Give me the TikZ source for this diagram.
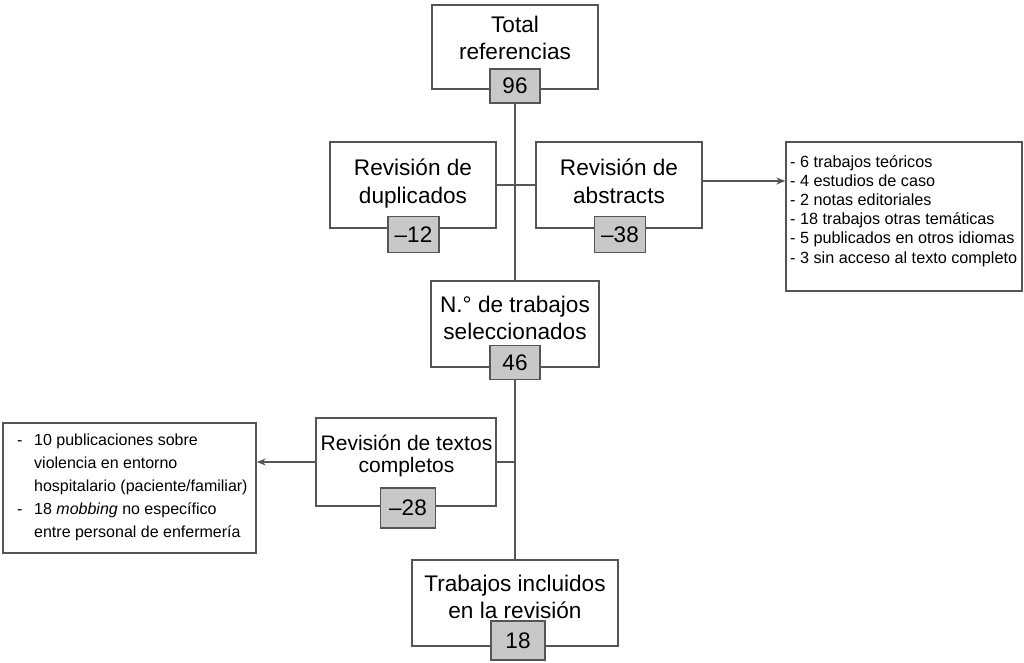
\documentclass[tikz,border=0pt]{standalone}
\usepackage{fontspec}
\setmainfont{Liberation Sans}
\usetikzlibrary{arrows.meta}
\definecolor{ln}{HTML}{555555}
\definecolor{numfill}{HTML}{C8C8C8}
\begin{document}
\begin{tikzpicture}[x=1pt,y=-1pt,
  box/.style={draw=ln,line width=1.4pt,fill=white,inner sep=0pt},
  numbox/.style={draw=ln,line width=1.4pt,fill=numfill,inner sep=0pt,font=\fontsize{22.5}{26}\selectfont},
  maintxt/.style={align=center,font=\fontsize{22.6}{27.5}\selectfont,inner sep=0pt},
  listtxt/.style={align=left,inner sep=0pt,anchor=north west},
  conn/.style={draw=ln,line width=1.4pt},
  arr/.style={conn,-{Stealth[length=9pt,width=7pt]}}]
\useasboundingbox (0,0) rectangle (1024,663);

% main boxes
\node[box,minimum width=166pt,minimum height=84pt] (tot) at (515,47) {};
\node[maintxt] (tottxt) at (515,38) {Total\\referencias};
\node[numbox,minimum width=50pt,minimum height=34pt] (n96) at (515,86) {96};

\node[box,minimum width=166pt,minimum height=86pt] (dup) at (413,185) {};
\node[maintxt] (duptxt) at (413,183.7) {Revisión de\\duplicados};
\node[numbox,minimum width=51pt,minimum height=36pt] (n12) at (413.5,234.5) {–12};

\node[box,minimum width=166pt,minimum height=86pt] (abs) at (619,185) {};
\node[maintxt] (abstxt) at (619,181.4) {Revisión de\\abstracts};
\node[numbox,minimum width=51pt,minimum height=36pt] (n38) at (620,234.5) {–38};

\node[box,minimum width=236pt,minimum height=149pt] (list) at (904,216.5) {};
\node[listtxt,font=\fontsize{16.2}{19.2}\selectfont] (listtxt) at (790,155)
  {- 6 trabajos teóricos\\- 4 estudios de caso\\- 2 notas editoriales\\- 18 trabajos otras temáticas\\- 5 publicados en otros idiomas\\- 3 sin acceso al texto completo};

\node[box,minimum width=168pt,minimum height=86pt] (sel) at (515,324) {};
\node[maintxt] (seltxt) at (515,317.8) {N.° de trabajos\\seleccionados};
\node[numbox,minimum width=50pt,minimum height=34pt] (n46) at (515,362.5) {46};

\node[box,minimum width=180pt,minimum height=88pt] (tex) at (406,462) {};
\node[maintxt,font=\fontsize{21}{22.5}\selectfont] (textxt) at (406.5,456) {Revisión de textos\\completos};
\node[numbox,minimum width=55pt,minimum height=40pt] (n28) at (408,508) {–28};

\node[box,minimum width=253pt,minimum height=130pt] (left) at (129.5,488) {};
\node[listtxt,font=\fontsize{16}{23}\selectfont] (lefttxt) at (17,434)
  {\makebox[17pt][l]{-}10 publicaciones sobre\\
   \hspace*{17pt}violencia en entorno\\
   \hspace*{17pt}hospitalario (paciente/familiar)\\
   \makebox[17pt][l]{-}18 \textit{mobbing} no específico\\
   \hspace*{17pt}entre personal de enfermería};

\node[box,minimum width=206pt,minimum height=86pt] (trab) at (515,603) {};
\node[maintxt] (trabtxt) at (515,597) {Trabajos incluidos\\en la revisión};
\node[numbox,minimum width=54pt,minimum height=39pt] (n18) at (518,640.5) {18};

% connectors
\draw[conn] (n96.south) -- (n96.south |- sel.north);
\draw[conn] (dup.east) -- (abs.west);
\draw[arr] ([yshift=4pt]abs.east) -- ([yshift=4pt]abs.east -| list.west);
\draw[conn] (n46.south) -- (n46.south |- trab.north);
\draw[conn] (tex.east) -- (tex.east -| n46.south);
\draw[arr] (tex.west) -- (tex.west -| left.east);
\end{tikzpicture}
\end{document}
